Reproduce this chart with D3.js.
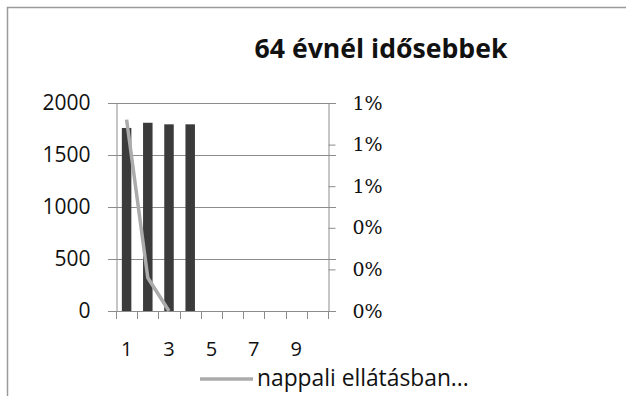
<!DOCTYPE html>
<html>
<head>
<meta charset="utf-8">
<script src="https://cdn.jsdelivr.net/npm/d3@7"></script>
<style>
  html, body { margin: 0; padding: 0; background: #fff; }
  svg { display: block; }
</style>
</head>
<body>
<svg id="chart" width="626" height="396"></svg>
<script>
// Categories along the bottom axis
const categories = [1, 2, 3, 4, 5, 6, 7, 8, 9, 10];
// Bar series (left axis)
const barValues = [1760, 1810, 1795, 1795, null, null, null, null, null, null];
// Line series (right axis, share)
const lineValues = [0.0092, 0.0016, 0, null, null, null, null, null, null, null];
const lineName = "nappali ellátásban...";
const title = "64 évnél idősebbek";
const leftTicks = [0, 500, 1000, 1500, 2000];
const rightTicks = [0, 0.002, 0.004, 0.006, 0.008, 0.010];
const xTickLabels = [1, 3, 5, 7, 9];

const svg = d3.select("#chart");
const plot = { left: 116, right: 328, top: 103, bottom: 311 };
const axisColor = "#8c8c8c";
const sans = "'Open Sans', sans-serif";

// Chart frame (left and top edges)
svg.append("path")
  .attr("d", "M7.5,396 V7.5 H626")
  .attr("fill", "none")
  .attr("stroke", "#9a9a9a")
  .attr("stroke-width", 1.5);

const x = d3.scaleBand().domain(categories).range([plot.left, plot.right]).paddingInner(0).paddingOuter(0);
const yL = d3.scaleLinear().domain([0, 2000]).range([plot.bottom, plot.top]);
const yR = d3.scaleLinear().domain([0, 0.010]).range([plot.bottom, plot.top]);

// Horizontal gridlines (span the tick marks on both sides)
svg.append("g").selectAll("line").data(leftTicks).join("line")
  .attr("x1", plot.left - 8).attr("x2", plot.right + 8)
  .attr("y1", d => Math.round(yL(d)) + 0.5).attr("y2", d => Math.round(yL(d)) + 0.5)
  .attr("stroke", axisColor).attr("stroke-width", 1);

// Left axis
const gL = svg.append("g").attr("transform", `translate(${plot.left + 0.5},0)`)
  .call(d3.axisLeft(yL).tickValues(leftTicks).tickSize(8).tickPadding(18).tickFormat(d3.format("d")));
gL.select(".domain").attr("stroke", axisColor);
gL.selectAll(".tick line").attr("stroke", axisColor);
gL.selectAll("text").attr("font-family", sans).attr("font-size", 21).attr("fill", "#111");

// Right axis
const gR = svg.append("g").attr("transform", `translate(${plot.right + 0.5},0)`)
  .call(d3.axisRight(yR).tickValues(rightTicks).tickSize(7).tickPadding(17).tickFormat(d3.format(".0%")));
gR.select(".domain").attr("stroke", axisColor);
gR.selectAll(".tick line").attr("stroke", axisColor);
gR.selectAll("text").attr("font-family", "'DejaVu Serif', serif").attr("font-size", 19).attr("fill", "#111");

// Bottom axis: tick marks at category boundaries
const boundaries = categories.map(c => x(c)).concat([plot.right]);
svg.append("g").selectAll("line").data(boundaries).join("line")
  .attr("x1", d => Math.round(d) + 0.5).attr("x2", d => Math.round(d) + 0.5)
  .attr("y1", plot.bottom).attr("y2", plot.bottom + 8)
  .attr("stroke", axisColor);
svg.append("line")
  .attr("x1", plot.left).attr("x2", plot.right)
  .attr("y1", plot.bottom + 0.5).attr("y2", plot.bottom + 0.5)
  .attr("stroke", axisColor);
svg.append("g").selectAll("text").data(xTickLabels).join("text")
  .attr("x", d => x(d) + x.bandwidth() / 2)
  .attr("y", 356)
  .attr("text-anchor", "middle")
  .attr("font-family", sans).attr("font-size", 20).attr("fill", "#111")
  .text(d => d);

// Bars
const barW = 9.5;
svg.append("g").selectAll("rect")
  .data(categories.map((c, i) => ({ c, v: barValues[i] })).filter(d => d.v != null))
  .join("rect")
  .attr("x", d => x(d.c) + x.bandwidth() / 2 - barW / 2)
  .attr("width", barW)
  .attr("y", d => yL(d.v))
  .attr("height", d => yL(0) - yL(d.v))
  .attr("fill", "#3b3b3b");

// Line
const lineData = categories.map((c, i) => ({ c, v: lineValues[i] }));
svg.append("path")
  .datum(lineData)
  .attr("fill", "none")
  .attr("stroke", "#ababab")
  .attr("stroke-width", 3.5)
  .attr("stroke-linejoin", "round")
  .attr("d", d3.line().defined(d => d.v != null)
    .x(d => x(d.c) + x.bandwidth() / 2).y(d => yR(d.v)));

// Title
const t = svg.append("text")
  .attr("x", 381).attr("y", 58)
  .attr("text-anchor", "middle")
  .attr("font-family", sans).attr("font-weight", 700).attr("font-size", 22).attr("fill", "#111")
  .text(title);
const tw = t.node().getComputedTextLength();
t.attr("font-size", 22 * 253 / tw);

// Legend
svg.append("line")
  .attr("x1", 200).attr("x2", 253).attr("y1", 379).attr("y2", 379)
  .attr("stroke", "#ababab").attr("stroke-width", 3.5);
const lt = svg.append("text")
  .attr("x", 257).attr("y", 386)
  .attr("font-family", sans).attr("font-size", 18).attr("fill", "#111")
  .text(lineName);
const lw = lt.node().getComputedTextLength();
lt.attr("font-size", 18 * 212 / lw);
</script>
</body>
</html>
